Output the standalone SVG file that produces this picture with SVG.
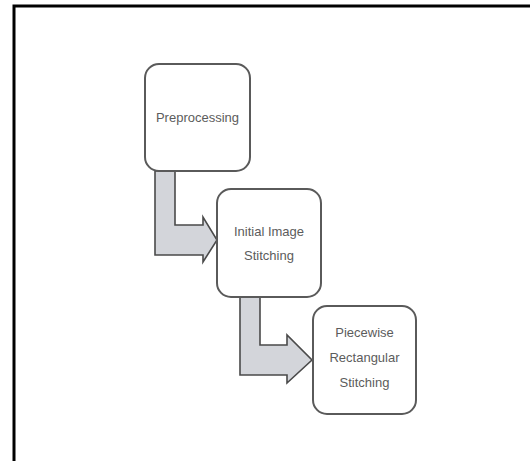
<svg xmlns="http://www.w3.org/2000/svg" width="530" height="461" viewBox="0 0 530 461">
<style>
.box{fill:#fff;stroke:#5a5a5a;stroke-width:2}
.arr{fill:#d3d5da;stroke:#4a4a4a;stroke-width:1.6;stroke-linejoin:miter}
.t{font-family:"Liberation Sans",Arial,sans-serif;font-size:13px;fill:#5c5c5c;text-anchor:middle}
</style>
<rect width="530" height="461" fill="#fff"/>
<path d="M14,461 V6 H530" fill="none" stroke="#000" stroke-width="3"/>
<g id="connectors">
<path class="arr" d="M155,171 H175 V225 H203 V217 L217,240 L203,262 V255 H155 Z"/>
<path class="arr" d="M240,297 H260 V345 H287 V335 L312,360 L287,383 V375 H240 Z"/>
</g>
<g id="node1">
<rect class="box" x="145" y="64" width="105" height="107" rx="14"/>
<text class="t" x="197.5" y="122">Preprocessing</text>
</g>
<g id="node2">
<rect class="box" x="217" y="189" width="104" height="108" rx="14"/>
<text class="t" x="269" y="236">Initial Image</text>
<text class="t" x="269" y="260">Stitching</text>
</g>
<g id="node3">
<rect class="box" x="313" y="306" width="103" height="108" rx="14"/>
<text class="t" x="364.5" y="337">Piecewise</text>
<text class="t" x="364.5" y="362">Rectangular</text>
<text class="t" x="364.5" y="387">Stitching</text>
</g>
</svg>
